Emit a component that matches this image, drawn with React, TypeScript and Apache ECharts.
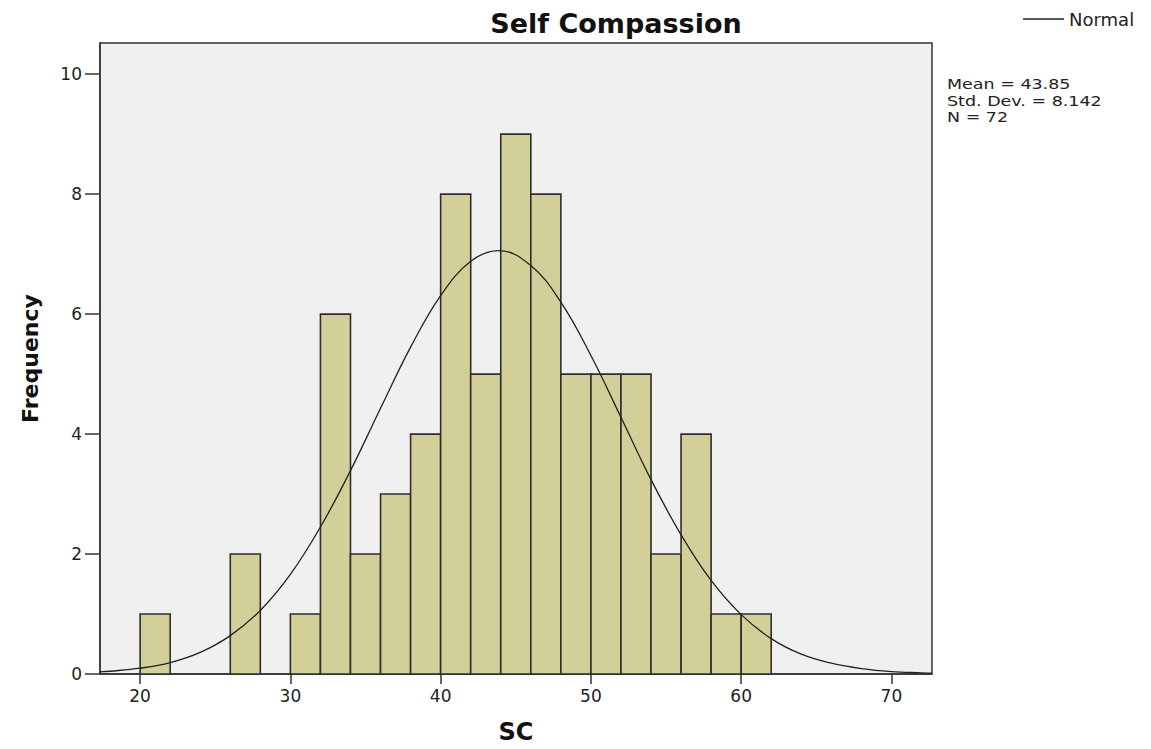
import React, { useEffect, useRef } from "react";
import * as echarts from "echarts";

// Histogram bins (lower edges), bin width and counts
const binStarts = [20, 26, 30, 32, 34, 36, 38, 40, 42, 44, 46, 48, 50, 52, 54, 56, 58, 60];
const binWidth = 2;
const frequencies = [1, 2, 1, 6, 2, 3, 4, 8, 5, 9, 8, 5, 5, 5, 2, 4, 1, 1];

// Normal curve points
const curveX = [17.3, 18, 20, 22, 24, 26, 28, 30, 32, 34, 36, 38, 40, 42, 43.85, 46, 48, 50, 52, 54, 56, 58, 60, 62, 64, 66, 68, 70, 72, 72.7];
const curveY = [0.035, 0.046, 0.097, 0.19, 0.36, 0.64, 1.06, 1.66, 2.45, 3.39, 4.43, 5.45, 6.31, 6.88, 7.06, 6.81, 6.2, 5.31, 4.28, 3.24, 2.32, 1.56, 0.99, 0.59, 0.33, 0.18, 0.09, 0.04, 0.02, 0.015];

const xTicks = [20, 30, 40, 50, 60, 70];
const yTicks = [0, 2, 4, 6, 8, 10];
const statLines = ["Mean = 43.85", "Std. Dev. = 8.142", "N = 72"];
const titleText = "Self Compassion";
const xName = "SC";
const yName = "Frequency";
const legendName = "Normal";

const FONT = '"DejaVu Sans", "Liberation Sans", Arial, sans-serif';
const AXIS_COLOR = "#333333";

export default function App() {
  const ref = useRef<HTMLDivElement | null>(null);

  useEffect(() => {
    if (!ref.current) return;
    const chart = echarts.init(ref.current, undefined, { renderer: "svg" });

    const barData = binStarts.map((s, i) => [s, s + binWidth, frequencies[i]]);
    const curveData = curveX.map((x, i) => [x, curveY[i]]);

    const option: any = {
      animation: false,
      backgroundColor: "#ffffff",
      grid: {
        left: 100,
        right: 219,
        top: 43,
        bottom: 75,
        show: true,
        backgroundColor: "#F0F0F0",
        borderColor: AXIS_COLOR,
        borderWidth: 1.5,
      },
      legend: {
        show: true,
        left: 1023,
        top: 10,
        padding: 0,
        icon: "rect",
        itemWidth: 41,
        itemHeight: 1.3,
        itemGap: 4,
        data: [legendName],
        textStyle: { fontFamily: FONT, fontSize: 18, color: "#222" },
      },
      xAxis: {
        type: "value",
        min: 17.33,
        max: 72.7,
        name: xName,
        nameLocation: "middle",
        nameGap: 46,
        nameTextStyle: { fontFamily: FONT, fontSize: 24, fontWeight: "bold", color: "#111" },
        axisLine: { show: true, onZero: false, lineStyle: { color: AXIS_COLOR, width: 1.5 } },
        axisTick: { show: true, customValues: xTicks, length: 10, lineStyle: { color: AXIS_COLOR, width: 1.5 } },
        axisLabel: { customValues: xTicks, margin: 13, fontFamily: FONT, fontSize: 17, color: "#222" },
        splitLine: { show: false },
      },
      yAxis: {
        type: "value",
        min: 0,
        max: 10.52,
        name: yName,
        nameLocation: "middle",
        nameGap: 59,
        nameRotate: 90,
        nameTextStyle: { fontFamily: FONT, fontSize: 22, fontWeight: "bold", color: "#111" },
        axisLine: { show: true, lineStyle: { color: AXIS_COLOR, width: 1.5 } },
        axisTick: { show: true, customValues: yTicks, length: 15, lineStyle: { color: AXIS_COLOR, width: 1.5 } },
        axisLabel: { customValues: yTicks, margin: 18, fontFamily: FONT, fontSize: 17, color: "#222" },
        splitLine: { show: false },
      },
      graphic: [
        {
          type: "text",
          x: 616,
          y: 23,
          style: {
            text: titleText,
            fill: "#111",
            font: `bold 27px ${FONT}`,
            textAlign: "center",
            textVerticalAlign: "middle",
          },
        },
        ...statLines.map((t, i) => ({
          type: "text",
          x: 947,
          y: 84.5 + i * 16.5,
          scaleX: 1.25,
          style: {
            text: t,
            fill: "#222",
            font: `14px ${FONT}`,
            textAlign: "left",
            textVerticalAlign: "middle",
          },
        })),
      ],
      series: [
        {
          type: "custom",
          name: "Frequency",
          data: barData,
          encode: { x: [0, 1], y: 2 },
          renderItem: (params: any, api: any) => {
            const lo = api.value(0);
            const hi = api.value(1);
            const v = api.value(2);
            const p0 = api.coord([lo, v]);
            const p1 = api.coord([hi, 0]);
            return {
              type: "rect",
              shape: { x: p0[0], y: p0[1], width: p1[0] - p0[0], height: p1[1] - p0[1] },
              style: { fill: "#D3CF98", stroke: "#2e2e2e", lineWidth: 1.6 },
            };
          },
          z: 2,
        },
        {
          type: "line",
          name: legendName,
          data: curveData,
          smooth: 0.4,
          showSymbol: false,
          symbol: "none",
          lineStyle: { color: "#222", width: 1.3 },
          itemStyle: { color: "#222" },
          z: 3,
        },
      ],
    };

    chart.setOption(option);
    return () => chart.dispose();
  }, []);

  return (
    <div
      ref={ref}
      style={{ position: "absolute", left: 0, top: 0, width: 1151, height: 749 }}
    />
  );
}
